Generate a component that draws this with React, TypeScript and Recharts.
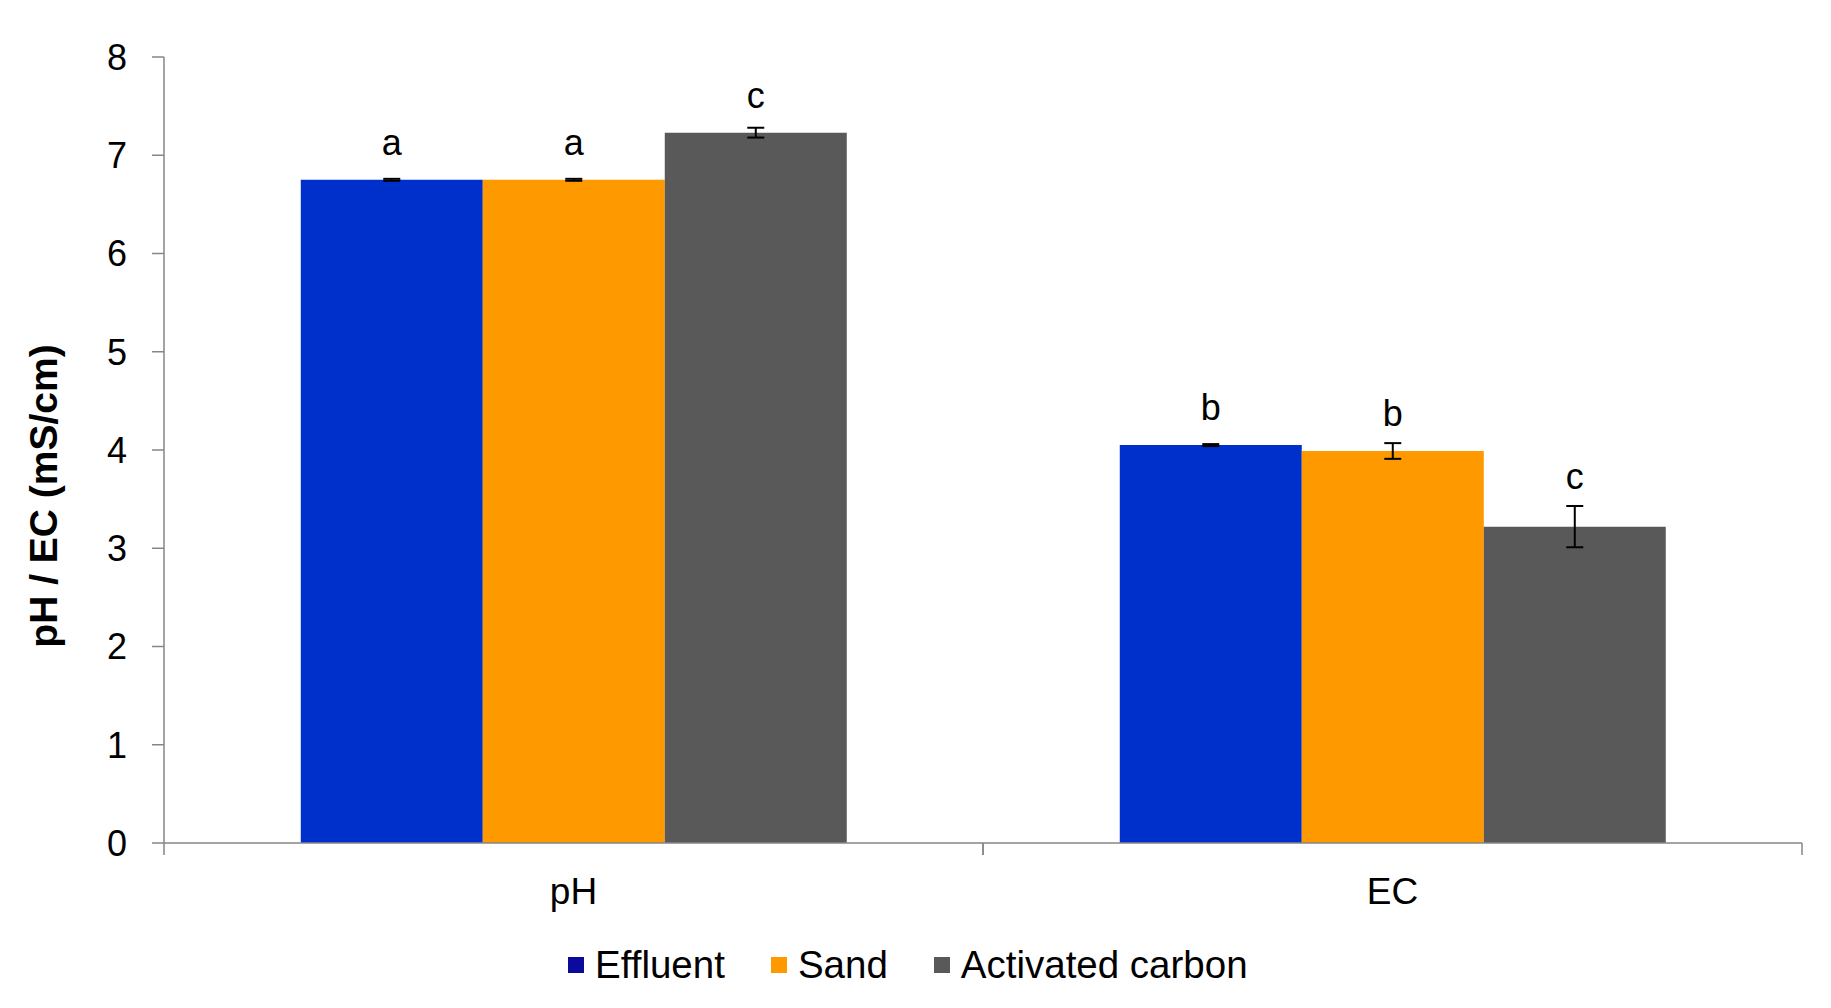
import React from 'react';
import { BarChart, Bar, XAxis, YAxis, ErrorBar, Legend, LabelList } from 'recharts';

const categories = ['pH', 'EC'];
const effluent = [6.75, 4.05];
const sand = [6.75, 3.99];
const carbon = [7.23, 3.22];
const effluentErr = [0.01, 0.01];
const sandErr = [0.01, 0.08];
const carbonErr = [0.05, 0.21];
const effluentLetters = ['a', 'b'];
const sandLetters = ['a', 'b'];
const carbonLetters = ['c', 'c'];
const yTicks = [0, 1, 2, 3, 4, 5, 6, 7, 8];
const seriesNames = ['Effluent', 'Sand', 'Activated carbon'];

const barColors = ['#0030CC', '#FF9900', '#595959'];
const legendColors = ['#0A0A9C', '#FF9900', '#595959'];
const FONT = '"Liberation Sans", Arial, sans-serif';
const AXIS = '#868686';

const data = categories.map((c, i) => ({
  cat: c,
  eff: effluent[i],
  sand: sand[i],
  carb: carbon[i],
  effErr: effluentErr[i],
  sandErr: sandErr[i],
  carbErr: carbonErr[i],
  effL: effluentLetters[i],
  sandL: sandLetters[i],
  carbL: carbonLetters[i],
}));

const makeLetter = (values: number[], errs: number[]) => (props: any) => {
  const { x, y, width, height, value, index } = props;
  const v = values[index];
  const errPx = v ? (height * errs[index]) / v : 0;
  const barTop = y;
  const errTop = y - errPx;
  const baseline = Math.min(barTop - 25, errTop - 17);
  return (
    <text
      x={x + width / 2}
      y={baseline}
      textAnchor="middle"
      fontFamily={FONT}
      fontSize={36}
      fill="#000"
    >
      {value}
    </text>
  );
};

const CategoryTick = (props: any) => {
  const { x, y, payload, width, visibleTicksCount } = props;
  const half =
    payload && typeof payload.offset === 'number' && payload.offset > 0
      ? payload.offset
      : width / visibleTicksCount / 2;
  return (
    <g>
      <line x1={x - half} x2={x - half} y1={y} y2={y + 12} stroke={AXIS} strokeWidth={1.5} />
      <line x1={x + half} x2={x + half} y1={y} y2={y + 12} stroke={AXIS} strokeWidth={1.5} />
      <text
        x={x}
        y={y + 48}
        textAnchor="middle"
        dominantBaseline="central"
        fontFamily={FONT}
        fontSize={37}
        fill="#000"
      >
        {payload.value}
      </text>
    </g>
  );
};

const YLabel = (props: any) => {
  const vb = props.viewBox || {};
  const cx = vb.x + 43;
  const cy = vb.y + vb.height / 2 + 46;
  return (
    <text
      x={cx}
      y={cy}
      transform={`rotate(-90, ${cx}, ${cy})`}
      textAnchor="middle"
      dominantBaseline="central"
      fontFamily={FONT}
      fontWeight="bold"
      fontSize={39}
      fill="#000"
    >
      pH / EC (mS/cm)
    </text>
  );
};

const LegendContent = () => (
  <div
    style={{
      height: 50,
      display: 'flex',
      alignItems: 'center',
      paddingLeft: 568,
      fontFamily: FONT,
      fontSize: 38.5,
      color: '#000',
    }}
  >
    {seriesNames.map((n, i) => (
      <div key={n} style={{ display: 'flex', alignItems: 'center', marginRight: 46 }}>
        <span
          style={{
            display: 'inline-block',
            width: 16,
            height: 16,
            background: legendColors[i],
            marginRight: 11,
          }}
        />
        <span>{n}</span>
      </div>
    ))}
  </div>
);

export default function App() {
  return (
    <div style={{ position: 'absolute', left: 0, top: 0, background: '#fff' }}>
      <BarChart
        width={1831}
        height={1008}
        data={data}
        margin={{ top: 57, right: 29, left: 0, bottom: 18 }}
        barCategoryGap="16.7%"
        barGap={0}
      >
        <XAxis
          dataKey="cat"
          height={97}
          axisLine={{ stroke: AXIS, strokeWidth: 1.5 }}
          tickLine={false}
          tickSize={0}
          tickMargin={0}
          tick={<CategoryTick />}
        />
        <YAxis
          width={164}
          domain={[0, 8]}
          ticks={yTicks}
          interval={0}
          tickSize={12}
          tickMargin={25}
          axisLine={{ stroke: AXIS, strokeWidth: 1.5 }}
          tickLine={{ stroke: AXIS, strokeWidth: 1.5 }}
          tick={{ fill: '#000', fontSize: 36, fontFamily: FONT }}
          label={<YLabel />}
        />
        <Legend
          verticalAlign="bottom"
          wrapperStyle={{ left: 0, width: 1831, height: 50 }}
          content={<LegendContent />}
        />
        <Bar dataKey="eff" name={seriesNames[0]} fill={barColors[0]} isAnimationActive={false}>
          <ErrorBar dataKey="effErr" width={8.5} strokeWidth={2} stroke="#000" direction="y" isAnimationActive={false} />
          <LabelList dataKey="effL" content={makeLetter(effluent, effluentErr)} />
        </Bar>
        <Bar dataKey="sand" name={seriesNames[1]} fill={barColors[1]} isAnimationActive={false}>
          <ErrorBar dataKey="sandErr" width={8.5} strokeWidth={2} stroke="#000" direction="y" isAnimationActive={false} />
          <LabelList dataKey="sandL" content={makeLetter(sand, sandErr)} />
        </Bar>
        <Bar dataKey="carb" name={seriesNames[2]} fill={barColors[2]} isAnimationActive={false}>
          <ErrorBar dataKey="carbErr" width={8.5} strokeWidth={2} stroke="#000" direction="y" isAnimationActive={false} />
          <LabelList dataKey="carbL" content={makeLetter(carbon, carbonErr)} />
        </Bar>
      </BarChart>
    </div>
  );
}
